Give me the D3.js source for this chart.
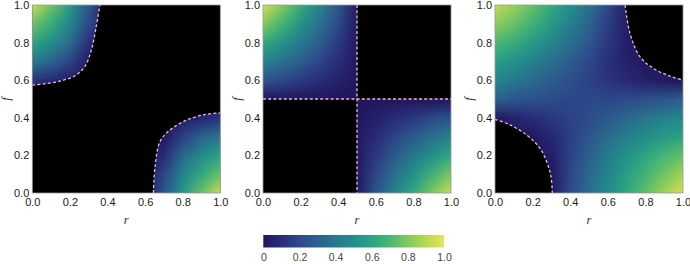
<!DOCTYPE html>
<html>
<head>
<meta charset="utf-8">
<script src="https://cdn.jsdelivr.net/npm/d3@7"></script>
<style>
  body { margin: 0; background: #fff; }
  svg { display: block; }
</style>
</head>
<body>
<svg id="chart" width="690" height="264"></svg>
<script>
// grid nodes r = 0, 0.1 ... 1 (columns), f = 1.0 ... 0.0 (rows, top to bottom)
var gridLeft = [
	[0.93,0.76,0.54,0.26,0,0,0,0,0,0,0],
	[0.76,0.63,0.46,0.20,0,0,0,0,0,0,0],
	[0.60,0.49,0.34,0.10,0,0,0,0,0,0,0],
	[0.40,0.31,0.18,0.02,0,0,0,0,0,0,0],
	[0.12,0.08,0.03,0,0,0,0,0,0,0,0],
	[0,0,0,0,0,0,0,0,0,0,0],
	[0,0,0,0,0,0,0,0,0.03,0.08,0.12],
	[0,0,0,0,0,0,0,0.02,0.18,0.31,0.40],
	[0,0,0,0,0,0,0,0.10,0.34,0.49,0.60],
	[0,0,0,0,0,0,0,0.20,0.46,0.63,0.76],
	[0,0,0,0,0,0,0,0.26,0.54,0.76,0.95]
];
var gridMiddle = [
	[0.95,0.80,0.63,0.45,0.25,0.02,0,0,0,0,0],
	[0.80,0.67,0.52,0.37,0.20,0.02,0,0,0,0,0],
	[0.62,0.52,0.40,0.28,0.15,0.02,0,0,0,0,0],
	[0.45,0.37,0.28,0.19,0.10,0.01,0,0,0,0,0],
	[0.25,0.20,0.15,0.10,0.05,0,0,0,0,0,0],
	[0,0,0,0,0,0,0,0,0,0,0],
	[0,0,0,0,0,0,0.05,0.10,0.15,0.20,0.25],
	[0,0,0,0,0,0.01,0.10,0.19,0.28,0.37,0.45],
	[0,0,0,0,0,0.02,0.15,0.28,0.40,0.52,0.62],
	[0,0,0,0,0,0.02,0.20,0.37,0.52,0.67,0.80],
	[0,0,0,0,0,0.02,0.25,0.45,0.63,0.80,0.95]
];
var gridRight = [
	[0.92,0.84,0.74,0.62,0.50,0.37,0.20,0.02,0,0,0],
	[0.82,0.75,0.66,0.55,0.43,0.31,0.16,0.03,0,0,0],
	[0.70,0.63,0.55,0.46,0.36,0.25,0.14,0.04,0,0,0],
	[0.58,0.51,0.44,0.36,0.28,0.20,0.11,0.05,0.01,0,0],
	[0.46,0.40,0.34,0.28,0.23,0.18,0.13,0.09,0.05,0.02,0],
	[0.30,0.26,0.23,0.21,0.20,0.20,0.20,0.21,0.23,0.26,0.30],
	[0.02,0.06,0.10,0.14,0.18,0.22,0.27,0.33,0.39,0.44,0.47],
	[0,0,0.01,0.08,0.17,0.26,0.35,0.43,0.50,0.56,0.60],
	[0,0,0,0.04,0.18,0.30,0.42,0.52,0.61,0.69,0.75],
	[0,0,0,0.02,0.20,0.33,0.46,0.58,0.68,0.78,0.87],
	[0,0,0,0.01,0.22,0.36,0.50,0.62,0.74,0.86,0.97]
];

// boundary curves [r, f]
var leftTopCurve = [[0,0.574],[0.083,0.583],[0.154,0.597],[0.225,0.622],[0.279,0.672],[0.314,0.76],[0.34,0.885],[0.36,1]];
var leftBottomCurve = [[0.644,0],[0.653,0.14],[0.679,0.273],[0.732,0.335],[0.821,0.388],[0.917,0.417],[1,0.426]];
var middleSplitR = 0.5;
var middleSplitF = 0.5;
var rightBottomCurve = [[0,0.392],[0.08,0.362],[0.168,0.309],[0.239,0.238],[0.278,0.158],[0.298,0.087],[0.305,0]];
var rightTopCurve = [[0.692,1],[0.718,0.849],[0.771,0.725],[0.842,0.663],[0.93,0.622],[1,0.6]];

var ticks = [0, 0.2, 0.4, 0.6, 0.8, 1.0];
var barTicks = [0, 0.2, 0.4, 0.6, 0.8, 1.0];
var colorStops = ['#22165c','#292c7a','#2d488a','#2c618e','#27788e','#228e8a','#2aa482','#4bb872','#80c95c','#b8d852','#e6e45e'];

var svg = d3.select('#chart'),
	size = 188,
	top0 = 5,
	lineColor = '#ecb6e0',
	cmap = d3.scaleLinear().domain(d3.range(0, 1.0001, 0.1)).range(colorStops).clamp(true);

var defs = svg.append('defs');

function fieldImage(grid){
	var n = grid.length,
		canvas = document.createElement('canvas');
	canvas.width = n; canvas.height = n;
	var ctx = canvas.getContext('2d'),
		img = ctx.createImageData(n, n);
	grid.forEach(function(row, i){
		row.forEach(function(v, j){
			var c = d3.rgb(cmap(v)), k = (i * n + j) * 4;
			img.data[k] = c.r; img.data[k+1] = c.g; img.data[k+2] = c.b; img.data[k+3] = 255;
		});
	});
	ctx.putImageData(img, 0, 0);
	return canvas.toDataURL();
}

function drawPanel(idx, x0, grid, regionPath, linePaths){
	var x = d3.scaleLinear().domain([0, 1]).range([x0, x0 + size]),
		y = d3.scaleLinear().domain([0, 1]).range([top0 + size, top0]),
		g = svg.append('g');

	var curve = d3.line().x(function(d){ return x(d[0]); }).y(function(d){ return y(d[1]); })
		.curve(d3.curveCatmullRom);

	g.append('rect')
		.attr('x', x(0)).attr('y', y(1)).attr('width', size).attr('height', size)
		.attr('fill', '#000');

	defs.append('clipPath').attr('id', 'clip' + idx)
		.append('path').attr('d', regionPath(x, y, curve));

	var step = size / (grid.length - 1);
	g.append('image')
		.attr('href', fieldImage(grid))
		.attr('x', x(0) - step / 2).attr('y', y(1) - step / 2)
		.attr('width', size + step).attr('height', size + step)
		.attr('preserveAspectRatio', 'none')
		.attr('clip-path', 'url(#clip' + idx + ')');

	linePaths(x, y, curve).forEach(function(d){
		g.append('path')
			.attr('d', d)
			.attr('fill', 'none')
			.attr('stroke', lineColor)
			.attr('stroke-width', 1.3)
			.attr('stroke-dasharray', '3,2.2');
	});

	g.append('rect')
		.attr('x', x(0)).attr('y', y(1)).attr('width', size).attr('height', size)
		.attr('fill', 'none').attr('stroke', '#9a9a9a').attr('stroke-width', 0.8);

	var xAxis = g.append('g')
		.attr('transform', 'translate(0,' + (top0 + size) + ')')
		.call(d3.axisBottom(x).tickValues(ticks).tickFormat(d3.format('.1f')).tickSize(0).tickPadding(5));
	var yAxis = g.append('g')
		.attr('transform', 'translate(' + x0 + ',0)')
		.call(d3.axisLeft(y).tickValues(ticks).tickFormat(d3.format('.1f')).tickSize(0).tickPadding(3));
	[xAxis, yAxis].forEach(function(a){
		a.select('.domain').remove();
		a.selectAll('text')
			.attr('fill', '#1a1a1a')
			.style('font-family', '"Liberation Sans", Arial, sans-serif')
			.style('font-size', '11px');
	});

	g.append('text')
		.attr('x', x(0.5)).attr('y', 224)
		.attr('text-anchor', 'middle')
		.style('font-family', '"Liberation Serif", "Times New Roman", serif')
		.style('font-style', 'italic')
		.style('font-size', '12.5px')
		.attr('fill', '#333')
		.text('r');

	g.append('text')
		.attr('transform', 'translate(' + (x0 - 22) + ',' + y(0.5) + ') rotate(-90)')
		.attr('text-anchor', 'middle')
		.style('font-family', '"Liberation Serif", "Times New Roman", serif')
		.style('font-style', 'italic')
		.style('font-size', '12.5px')
		.attr('fill', '#333')
		.text('f');
}

drawPanel(0, 32.3, gridLeft,
	function(x, y, curve){
		return curve(leftTopCurve) + 'L' + x(0) + ',' + y(1) + 'Z' +
			curve(leftBottomCurve) + 'L' + x(1) + ',' + y(0) + 'Z';
	},
	function(x, y, curve){ return [curve(leftTopCurve), curve(leftBottomCurve)]; });

drawPanel(1, 263, gridMiddle,
	function(x, y){
		return 'M' + x(0) + ',' + y(1) + 'H' + x(middleSplitR) + 'V' + y(middleSplitF) + 'H' + x(0) + 'Z' +
			'M' + x(middleSplitR) + ',' + y(middleSplitF) + 'H' + x(1) + 'V' + y(0) + 'H' + x(middleSplitR) + 'Z';
	},
	function(x, y){
		return ['M' + x(middleSplitR) + ',' + y(1) + 'V' + y(0),
			'M' + x(0) + ',' + y(middleSplitF) + 'H' + x(1)];
	});

drawPanel(2, 495, gridRight,
	function(x, y, curve){
		return 'M' + x(0) + ',' + y(1) + curve(rightBottomCurve).replace(/^M/, 'L') +
			'L' + x(1) + ',' + y(0) + curve(rightTopCurve.slice().reverse()).replace(/^M/, 'L') + 'Z';
	},
	function(x, y, curve){ return [curve(rightBottomCurve), curve(rightTopCurve)]; });

// colour bar
var bx = d3.scaleLinear().domain([0, 1]).range([263.3, 444]);
var grad = defs.append('linearGradient').attr('id', 'barGrad');
d3.range(0, 1.0001, 0.05).forEach(function(t){
	grad.append('stop').attr('offset', (t * 100) + '%').attr('stop-color', cmap(t));
});
svg.append('rect')
	.attr('x', bx(0)).attr('y', 235).attr('width', bx(1) - bx(0)).attr('height', 12.5)
	.attr('fill', 'url(#barGrad)');
var barAxis = svg.append('g')
	.attr('transform', 'translate(0,247.5)')
	.call(d3.axisBottom(bx).tickValues(barTicks)
		.tickFormat(function(d){ return d === 0 ? '0' : d3.format('.1f')(d); })
		.tickSize(0).tickPadding(6));
barAxis.select('.domain').remove();
barAxis.selectAll('text')
	.attr('fill', '#444')
	.style('font-family', '"Liberation Sans", Arial, sans-serif')
	.style('font-size', '10.5px');
</script>
</body>
</html>
